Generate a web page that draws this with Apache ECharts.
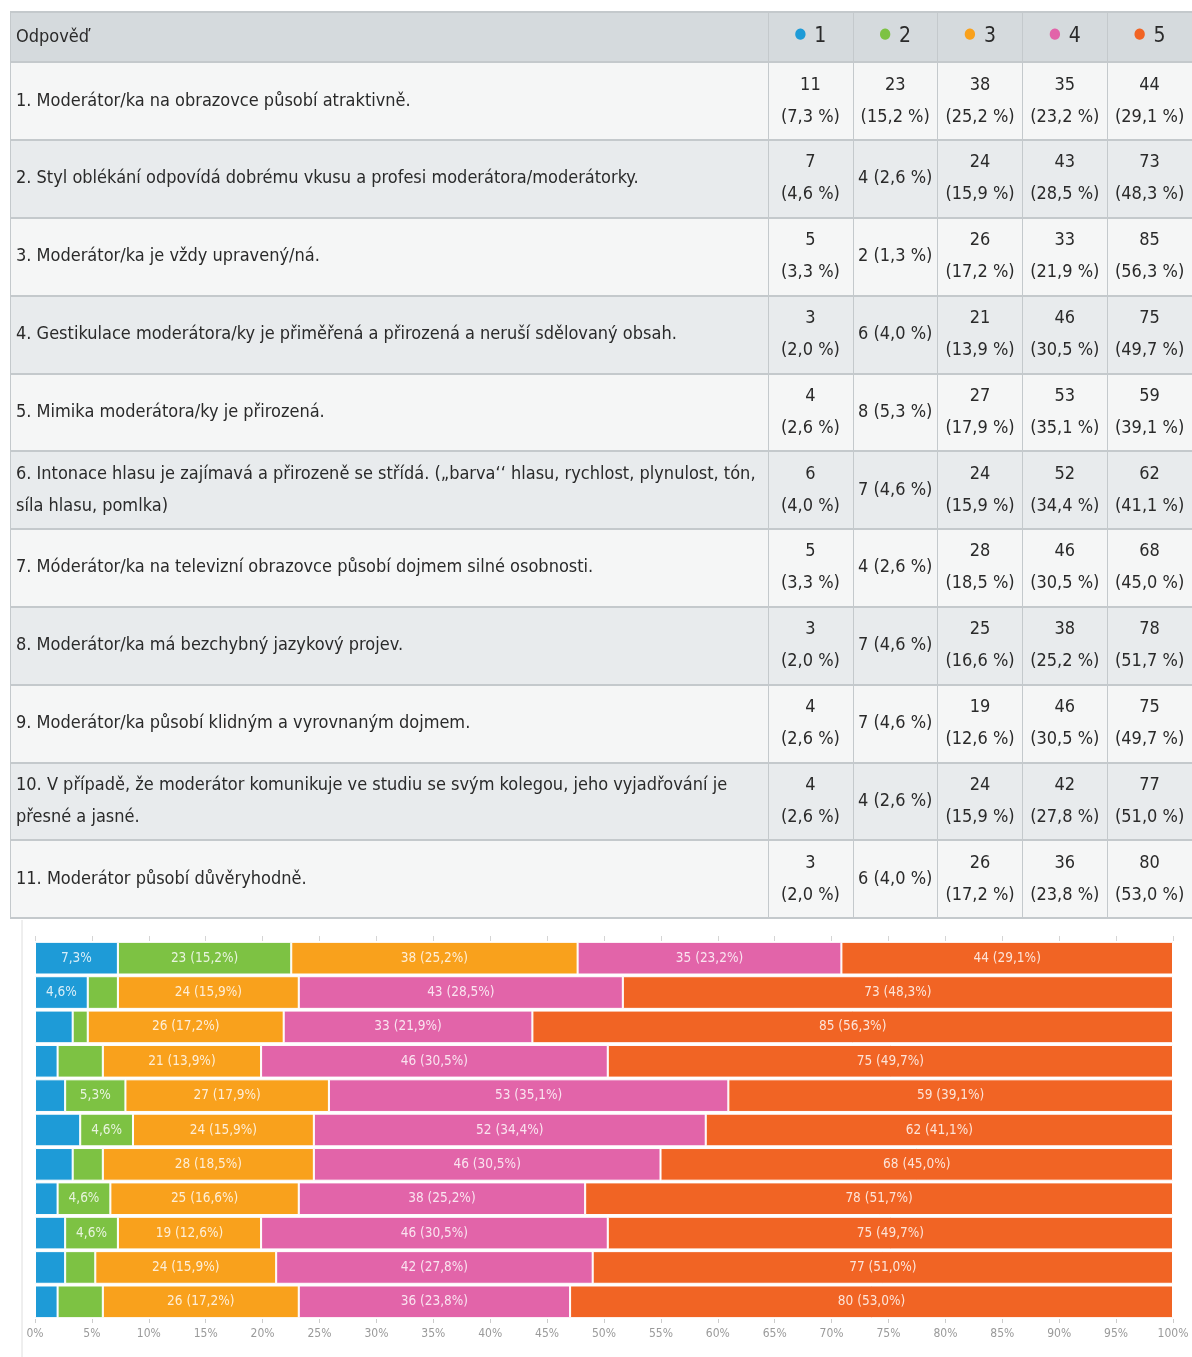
<!DOCTYPE html>
<html>
<head>
<meta charset="utf-8">
<script src="https://cdn.jsdelivr.net/npm/echarts@6/dist/echarts.min.js"></script>
<style>html,body{margin:0;padding:0;background:#fff;}#c{width:1192px;height:1357px;}</style>
</head>
<body>
<div id="c"></div>
<script>
const headerLabel = 'Odpověď';
const questions = [
  '1. Moderátor/ka na obrazovce působí atraktivně.',
  '2. Styl oblékání odpovídá dobrému vkusu a profesi moderátora/moderátorky.',
  '3. Moderátor/ka je vždy upravený/ná.',
  '4. Gestikulace moderátora/ky je přiměřená a přirozená a neruší sdělovaný obsah.',
  '5. Mimika moderátora/ky je přirozená.',
  '6. Intonace hlasu je zajímavá a přirozeně se střídá. („barva\u2018\u2018 hlasu, rychlost, plynulost, tón,\nsíla hlasu, pomlka)',
  '7. Móderátor/ka na televizní obrazovce působí dojmem silné osobnosti.',
  '8. Moderátor/ka má bezchybný jazykový projev.',
  '9. Moderátor/ka působí klidným a vyrovnaným dojmem.',
  '10. V případě, že moderátor komunikuje ve studiu se svým kolegou, jeho vyjadřování je\npřesné a jasné.',
  '11. Moderátor působí důvěryhodně.'
];
const scores = ['1', '2', '3', '4', '5'];
const counts1 = [11, 7, 5, 3, 4, 6, 5, 3, 4, 4, 3];
const counts2 = [23, 4, 2, 6, 8, 7, 4, 7, 7, 4, 6];
const counts3 = [38, 24, 26, 21, 27, 24, 28, 25, 19, 24, 26];
const counts4 = [35, 43, 33, 46, 53, 52, 46, 38, 46, 42, 36];
const counts5 = [44, 73, 85, 75, 59, 62, 68, 78, 75, 77, 80];
const axisMin = 0, axisMax = 100, axisInterval = 5;

const colors = ['#1e9bd7', '#7dc243', '#f9a11c', '#e264a9', '#f16424'];
const allCounts = [counts1, counts2, counts3, counts4, counts5];
const totals = questions.map((q, i) => allCounts.reduce((s, arr) => s + arr[i], 0));
const pct = (c, i) => c / totals[i] * 100;
const fmt = v => v.toFixed(1).replace('.', ',');

const FONT = '"Liberation Sans Narrow", "DejaVu Sans Condensed", "Roboto Condensed", Roboto, sans-serif';

// table cells
const cellData = [];
allCounts.forEach((arr, col) => {
  arr.forEach((c, row) => {
    cellData.push([col, row, c, pct(c, row)]);
  });
});

const chart = echarts.init(document.getElementById('c'));
const borderCol = '#c4c9cc';
const txtCol = '#2a2a2a';
const option = {
  animation: false,
  textStyle: { fontFamily: FONT },
  grid: [
    { left: 10, right: 0, top: 12, height: 50 },
    { left: 768, right: 0, top: 12, height: 50 },
    { left: 10, right: 0, top: 62, height: 856 },
    { left: 768, right: 0, top: 62, height: 856 },
    { left: 35, right: 19, top: 941, height: 378 }
  ],
  xAxis: [
    { gridIndex: 0, type: 'value', min: 0, max: 1, show: false },
    { gridIndex: 1, type: 'category', data: scores, position: 'top',
      axisLine: { show: false }, axisTick: { show: false },
      splitLine: { show: true, interval: 0, lineStyle: { color: borderCol, width: 1 } },
      axisLabel: { inside: true, interval: 0, margin: 14, fontFamily: FONT, fontSize: 21, color: txtCol,
        formatter: (v, i) => '{d' + i + '|\u25CF} ' + v,
        rich: Object.fromEntries(colors.map((c, i) => ['d' + i, { color: c, fontSize: 15, padding: [0, 2, 4, 0] }]))
      } },
    { gridIndex: 2, type: 'value', min: 0, max: 1, show: false },
    { gridIndex: 3, type: 'category', data: scores, position: 'top',
      axisLine: { show: false }, axisTick: { show: false }, axisLabel: { show: false },
      splitLine: { show: true, interval: 0, lineStyle: { color: borderCol, width: 1 } } },
    { gridIndex: 4, type: 'value', min: axisMin, max: axisMax, interval: axisInterval,
      axisLine: { show: false },
      axisTick: { show: true, length: 4, lineStyle: { color: '#ccc' } },
      splitLine: { show: false },
      axisLabel: { formatter: '{value}%', color: '#9a9a9a', fontSize: 12, margin: 9, fontFamily: FONT } },
    { gridIndex: 4, type: 'value', min: axisMin, max: axisMax, interval: axisInterval, position: 'top',
      axisLine: { show: false }, axisLabel: { show: false }, splitLine: { show: false },
      axisTick: { show: true, length: 5, lineStyle: { color: '#d5d5d5' } } }
  ],
  yAxis: [
    { gridIndex: 0, type: 'category', data: [headerLabel],
      axisLine: { show: true, lineStyle: { color: borderCol } }, axisTick: { show: false },
      splitArea: { show: true, areaStyle: { color: ['#d5dadd'] } },
      splitLine: { show: true, lineStyle: { color: borderCol, width: 2 } },
      axisLabel: { inside: true, margin: 6, fontFamily: FONT, fontSize: 18, color: txtCol } },
    { gridIndex: 1, type: 'category', data: [''], show: false },
    { gridIndex: 2, type: 'category', data: questions, inverse: true,
      axisLine: { show: true, lineStyle: { color: borderCol } }, axisTick: { show: false },
      splitArea: { show: true, interval: 0, areaStyle: { color: ['#f5f6f6', '#e8ebed'] } },
      splitLine: { show: true, interval: 0, lineStyle: { color: borderCol, width: 2 } },
      axisLabel: { inside: true, interval: 0, margin: 6, fontFamily: FONT, fontSize: 18, color: txtCol, lineHeight: 32 } },
    { gridIndex: 3, type: 'category', data: questions, inverse: true,
      axisLine: { show: true, lineStyle: { color: borderCol } }, axisTick: { show: false },
      axisLabel: { show: false }, splitLine: { show: false } },
    { gridIndex: 4, type: 'category', data: questions, inverse: true,
      axisLine: { show: false }, axisTick: { show: false }, axisLabel: { show: false } }
  ],
  series: [
    {
      type: 'scatter', xAxisIndex: 3, yAxisIndex: 3, silent: true,
      symbolSize: 1, itemStyle: { color: 'rgba(0,0,0,0)' },
      data: cellData,
      label: {
        show: true, position: 'inside', fontFamily: FONT, fontSize: 18, color: txtCol, lineHeight: 32,
        textBorderWidth: 0, textBorderColor: 'transparent', opacity: 1,
        formatter: p => {
          const [col, row, c, pc] = p.data;
          return (col === 1 && c < 10) ? c + ' (' + fmt(pc) + ' %)' : c + '\n(' + fmt(pc) + ' %)';
        }
      }
    }
  ].concat(allCounts.map((arr, s) => ({
    type: 'bar', stack: 'total', xAxisIndex: 4, yAxisIndex: 4, silent: true,
    name: scores[s],
    barCategoryGap: '5%',
    itemStyle: { color: colors[s], borderColor: '#ffffff', borderWidth: 1 },
    data: arr.map((c, i) => ({ value: pct(c, i), count: c })),
    label: {
      show: true, position: 'inside', fontFamily: FONT, fontSize: 13.5, color: 'rgba(255,255,255,0.82)',
      textBorderWidth: 0,
      formatter: p => {
        const v = p.value;
        if (v >= 10) return p.data.count + ' (' + fmt(v) + '%)';
        if (v >= 4.5) return fmt(v) + '%';
        return '';
      }
    }
  }))),
  graphic: [
    { type: 'line', shape: { x1: 22, y1: 920, x2: 22, y2: 1357 }, style: { stroke: '#dedede', lineWidth: 1 } }
  ]
};
chart.setOption(option);
</script>
</body>
</html>
